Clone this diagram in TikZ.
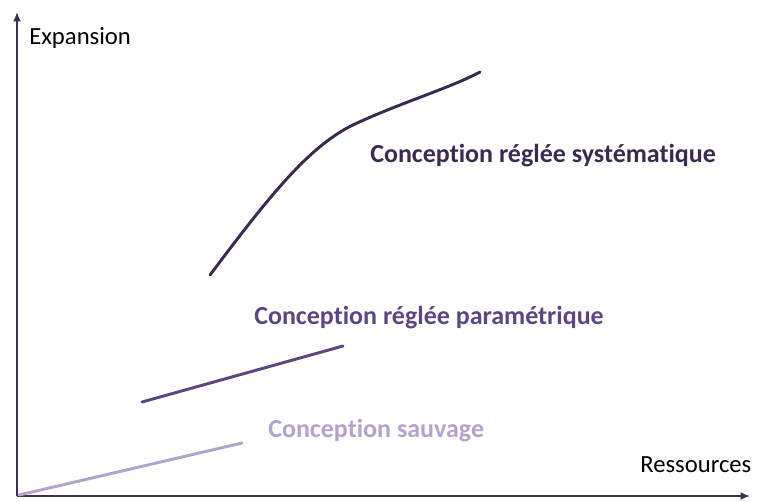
\documentclass[tikz,border=0pt]{standalone}
\usepackage{fontspec}
\setmainfont[Ligatures={NoCommon}]{Carlito}
\usetikzlibrary{arrows.meta}
\definecolor{axiscol}{HTML}{3E2D55}
\definecolor{systcol}{HTML}{3B2A4F}
\definecolor{paracol}{HTML}{5B4585}
\definecolor{sauvcol}{HTML}{B3A2CC}
\tikzset{
    x=0.75pt, y=-0.75pt,    % one unit = one pixel of the reference
    axis/.style={           % style for both axes
        draw=axiscol,
        line width=1.5pt,
        -{Latex[length=7pt, width=6pt]}
    },
    trend/.style={          % style for the three curves
        line width=2.2pt,
        line cap=round
    },
    axislabel/.style={
        font=\fontsize{18.5}{22}\selectfont,
        anchor=west,
        inner sep=0pt
    },
    trendlabel/.style={
        font=\fontsize{19.5}{23}\selectfont\bfseries,
        anchor=west,
        inner sep=0pt
    }
}

\begin{document}
\begin{tikzpicture}
                \useasboundingbox (0,0) rectangle (762,501);
                \coordinate (origin) at (17,496);
                \coordinate (ytip) at (17,12);
                \coordinate (xtip) at (750,496);
                \draw[axis] (origin) -- (ytip);
                \draw[axis] (origin) -- (xtip);
                \node[axislabel] (expansion) at (29,38) {Expansion};
                \node[axislabel] (ressources) at (640,465) {Ressources};
                % conception sauvage
                \coordinate (s0) at (19,495);
                \coordinate (s1) at (242,443);
                \draw[trend, sauvcol] (s0) -- (s1);
                \node[trendlabel, text=sauvcol] (sauvage) at (268,431) {Conception sauvage};
                % conception reglee parametrique
                \coordinate (p0) at (142,402);
                \coordinate (p1) at (343,346);
                \draw[trend, paracol] (p0) -- (p1);
                \node[trendlabel, text=paracol] (para) at (254,318) {Conception réglée paramétrique};
                % conception reglee systematique
                \coordinate (c0) at (210,275);
                \coordinate (c1) at (480,72);
                \draw[trend, systcol] (c0) .. controls (270,195) and (310,145) .. (355,124)
                    .. controls (400,103) and (450,88) .. (c1);
                \node[trendlabel, text=systcol] (syst) at (370,156) {Conception réglée systématique};
            \end{tikzpicture}
\end{document}
